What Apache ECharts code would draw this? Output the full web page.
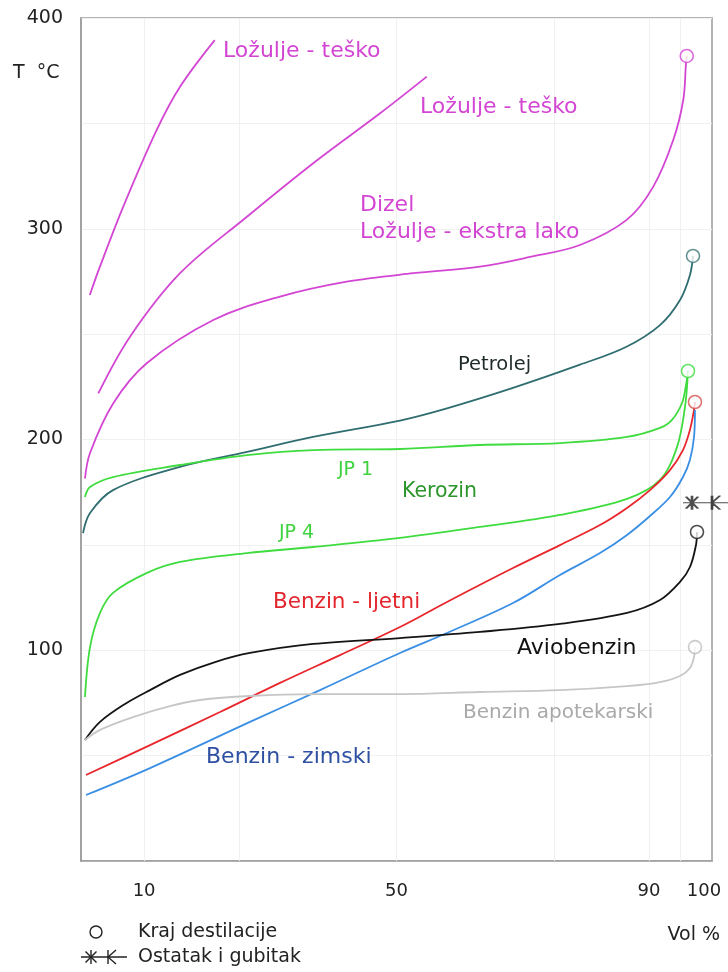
<!DOCTYPE html>
<html>
<head>
<meta charset="utf-8">
<script src="https://cdn.jsdelivr.net/npm/echarts@6/dist/echarts.min.js"></script>
<style>
html,body{margin:0;padding:0;background:#fff;}
#chart{width:728px;height:972px;}
</style>
</head>
<body>
<div id="chart"></div>
<script>
// ---- data: [Vol %, T °C] ----
const xTickLabels = [10, 50, 90, 100];
const yTickLabels = [100, 200, 300, 400];
const gridX = [10, 25, 50, 75, 90, 95];

const teskoA = [[1.4,268.6],[3.0,282.0],[6.7,310.5],[12.0,346.9],[15.7,367.4],[21.2,389.5]];
const teskoB = [[2.74,221.9],[7.77,248.8],[15.7,278.9],[26.3,305.7],[36.8,331.1],[47.4,354.8],[54.8,372.2]];
const dizel = [[0.63,181.5],[1.43,193.6],[5.12,217.2],[10.41,236.2],[20.97,256.7],[31.54,267.8],[42.11,274.9],[52.66,278.9],[63.23,282.0],[71.16,286.6],[79.08,292.3],[86.48,304.2],[90.70,320.0],[93.87,342.2],[95.45,361.2],[95.88,378.6],[96.0,382.0]];
const petrolej = [[0.32,155.6],[1.43,165.1],[5.07,176.0],[15.69,187.0],[26.31,194.1],[36.77,201.2],[50.55,209.0],[58.0,214.8],[68.46,224.5],[79.08,235.5],[86.37,243.9],[91.76,254.3],[94.93,266.2],[96.51,278.1],[96.99,287.1]];
const jp1 = [[0.63,172.7],[1.43,177.5],[5.07,182.2],[15.69,187.9],[26.31,192.6],[36.77,195.0],[50.55,195.5],[63.23,197.4],[75.91,198.3],[86.53,201.2],[91.76,205.5],[93.66,209.3],[95.25,217.3],[95.88,225.9],[96.2,232.5]];
const jp4 = [[0.63,77.8],[1.43,101.5],[3.01,117.7],[5.07,127.2],[10.46,136.7],[15.69,141.9],[26.31,146.1],[36.77,149.0],[50.55,153.3],[63.23,158.5],[75.91,164.2],[86.53,171.8],[91.76,180.8],[94.45,196.4],[95.72,215.4],[96.15,230.0]];
const benzinLjetni = [[0.79,40.8],[10.94,55.0],[22.03,70.7],[31.54,84.5],[41.05,97.7],[50.55,111.0],[58.0,122.9],[68.46,139.0],[75.91,149.9],[82.25,159.4],[86.53,167.5],[90.17,176.0],[93.34,185.5],[95.4,195.0],[96.5,204.5],[97.15,214.0],[97.3,217.8]];
const benzinZimski = [[0.79,31.3],[10.94,44.1],[26.78,66.0],[37.88,81.1],[50.55,98.7],[58.0,108.2],[68.46,122.4],[75.91,135.7],[82.25,146.1],[86.53,154.7],[90.17,163.7],[93.34,172.7],[95.4,182.2],[96.5,190.3],[97.15,201.2],[97.3,214.0]];
const aviobenzin = [[0.63,57.4],[3.01,66.0],[6.97,74.5],[10.94,81.1],[15.69,88.3],[21.24,94.4],[26.78,98.7],[36.77,103.0],[50.55,105.8],[63.23,108.7],[75.91,112.5],[86.53,117.7],[91.76,123.8],[94.93,132.4],[96.51,139.5],[97.46,149.9],[97.62,156.1]];
const apotekarski = [[0.63,57.4],[3.01,62.2],[8.24,68.3],[14.10,73.5],[18.86,76.4],[26.78,78.3],[36.77,79.2],[50.55,79.2],[63.23,80.2],[75.91,81.1],[86.53,83.0],[91.76,84.9],[94.93,87.8],[96.51,91.6],[97.15,96.8],[97.31,101.5]];
const ostatak = [[98.97,170]];

// ---- styling ----
const FONT = 'DejaVu Sans';
const C = {
  magenta:'#d346d3', teal:'#2f6d70', green:'#3fdc3f', red:'#e8262c',
  blue:'#3a8fe4', black:'#141414', gray:'#c6c6c6'
};

const curves = [
  {name:'Ložulje - teško', data:teskoA, color:C.magenta},
  {name:'Ložulje - teško 2', data:teskoB, color:C.magenta},
  {name:'Dizel', data:dizel, color:C.magenta},
  {name:'Petrolej', data:petrolej, color:C.teal},
  {name:'JP 1', data:jp1, color:C.green},
  {name:'JP 4 / Kerozin', data:jp4, color:C.green},
  {name:'Benzin - ljetni', data:benzinLjetni, color:C.red},
  {name:'Benzin - zimski', data:benzinZimski, color:C.blue},
  {name:'Aviobenzin', data:aviobenzin, color:C.black},
  {name:'Benzin apotekarski', data:apotekarski, color:C.gray}
];

const endCircles = [
  {value:dizel[dizel.length-1], c:C.magenta},
  {value:petrolej[petrolej.length-1], c:'#3f7777'},
  {value:jp1[jp1.length-1], c:C.green},
  {value:benzinLjetni[benzinLjetni.length-1], c:'#d65050'},
  {value:aviobenzin[aviobenzin.length-1], c:'#222'},
  {value:apotekarski[apotekarski.length-1], c:'#bdbdbd'}
].map(d => ({value:d.value, itemStyle:{borderColor:d.c}}));

const series = curves.map((s, i) => ({
  name:s.name, type:'line', data:s.data, smooth:0.35, showSymbol:false,
  lineStyle:{color:s.color, width:1.8}, itemStyle:{color:s.color},
  z:2, silent:true,
  markLine: i === 0 ? {
    silent:true, symbol:'none', label:{show:false}, z:1,
    lineStyle:{color:'#f0f0f0', type:'solid', width:1},
    data: gridX.map(v => ({xAxis:v}))
  } : undefined
}));

series.push({
  name:'Kraj destilacije', type:'scatter', data:endCircles, symbol:'circle', symbolSize:13,
  itemStyle:{color:'#fff', borderWidth:1.6}, z:5, silent:true
});
series.push({
  name:'Ostatak i gubitak', type:'scatter', data:ostatak, clip:false,
  symbol:'path://M0 8H45M9 1V15M3 2L15 14M15 2L3 14M29 1V15M29 8L37 1M29 8L37 15',
  symbolSize:[45,14],
  itemStyle:{color:'none', borderColor:'#222', borderWidth:1.5}, z:5, silent:true
});

function txt(x, y, text, color, size){
  return {type:'text', x:x, y:y, z:100, silent:true,
    style:{text:text, fill:color, font:size+'px "'+FONT+'"', verticalAlign:'middle', align:'left'}};
}
function seg(x1,y1,x2,y2){
  return {type:'line', z:100, silent:true, shape:{x1:x1,y1:y1,x2:x2,y2:y2}, style:{stroke:'#222', lineWidth:1.4}};
}

const graphics = [
  txt(223, 51, 'Ložulje - teško', C.magenta, 22),
  txt(420, 107, 'Ložulje - teško', C.magenta, 22),
  txt(360, 205, 'Dizel', C.magenta, 22),
  txt(360, 232, 'Ložulje - ekstra lako', C.magenta, 22),
  txt(458, 365, 'Petrolej', '#1e2a2a', 19.5),
  txt(338, 470, 'JP 1', '#3fd23f', 19),
  txt(402, 492, 'Kerozin', '#2c962c', 20.5),
  txt(279, 533, 'JP 4', '#3fd23f', 19),
  txt(273, 602, 'Benzin - ljetni', '#e3262d', 21.5),
  txt(517, 648, 'Aviobenzin', '#111', 22),
  txt(463, 713, 'Benzin apotekarski', '#a9a9a9', 20),
  txt(206, 757, 'Benzin - zimski', '#2e50a2', 22),
  txt(13, 73, 'T  °C', '#222', 19),
  {type:'text', x:720, y:935, z:100, silent:true,
    style:{text:'Vol %', fill:'#222', font:'19px "'+FONT+'"', verticalAlign:'middle', align:'right'}},
  // legend
  {type:'circle', z:100, silent:true, shape:{cx:96, cy:932, r:6}, style:{fill:'#fff', stroke:'#222', lineWidth:1.4}},
  txt(138, 932, 'Kraj destilacije', '#222', 19),
  seg(81,957,127,957), seg(91,950,91,964), seg(85.5,951.5,96.5,962.5), seg(96.5,951.5,85.5,962.5),
  seg(108,950,108,964), seg(108,957,116,950), seg(108,957,116,964),
  txt(138, 957, 'Ostatak i gubitak', '#222', 19)
];

const chart = echarts.init(document.getElementById('chart'), null, {renderer:'canvas'});
chart.setOption({
  animation:false,
  backgroundColor:'#fff',
  grid:{left:81, right:16, top:18, bottom:111, show:true, borderColor:'#9c9c9c', borderWidth:1.5, containLabel:false},
  xAxis:{
    type:'value', min:0, max:100, interval:10,
    axisLine:{show:true, lineStyle:{color:'#9c9c9c', width:1.5}},
    axisTick:{show:false}, splitLine:{show:false},
    axisLabel:{
      show:true, showMinLabel:true, showMaxLabel:true, margin:21,
      color:'#222', fontSize:18, fontFamily:FONT,
      formatter: v => xTickLabels.includes(v) ? (v === 100 ? '{r|' + v + '}' : String(v)) : '',
      rich:{r:{padding:[0,16,0,0], color:'#222', fontSize:18, fontFamily:FONT}}
    }
  },
  yAxis:{
    type:'value', min:0, max:400, interval:50,
    axisLine:{show:true, lineStyle:{color:'#9c9c9c', width:1.5}},
    axisTick:{show:false},
    splitLine:{show:true, lineStyle:{color:'#f1f1f1', width:1}},
    axisLabel:{margin:18, color:'#222', fontSize:19, fontFamily:FONT,
      formatter: v => yTickLabels.includes(v) ? String(v) : ''}
  },
  series:series,
  graphic:graphics
});
</script>
</body>
</html>
